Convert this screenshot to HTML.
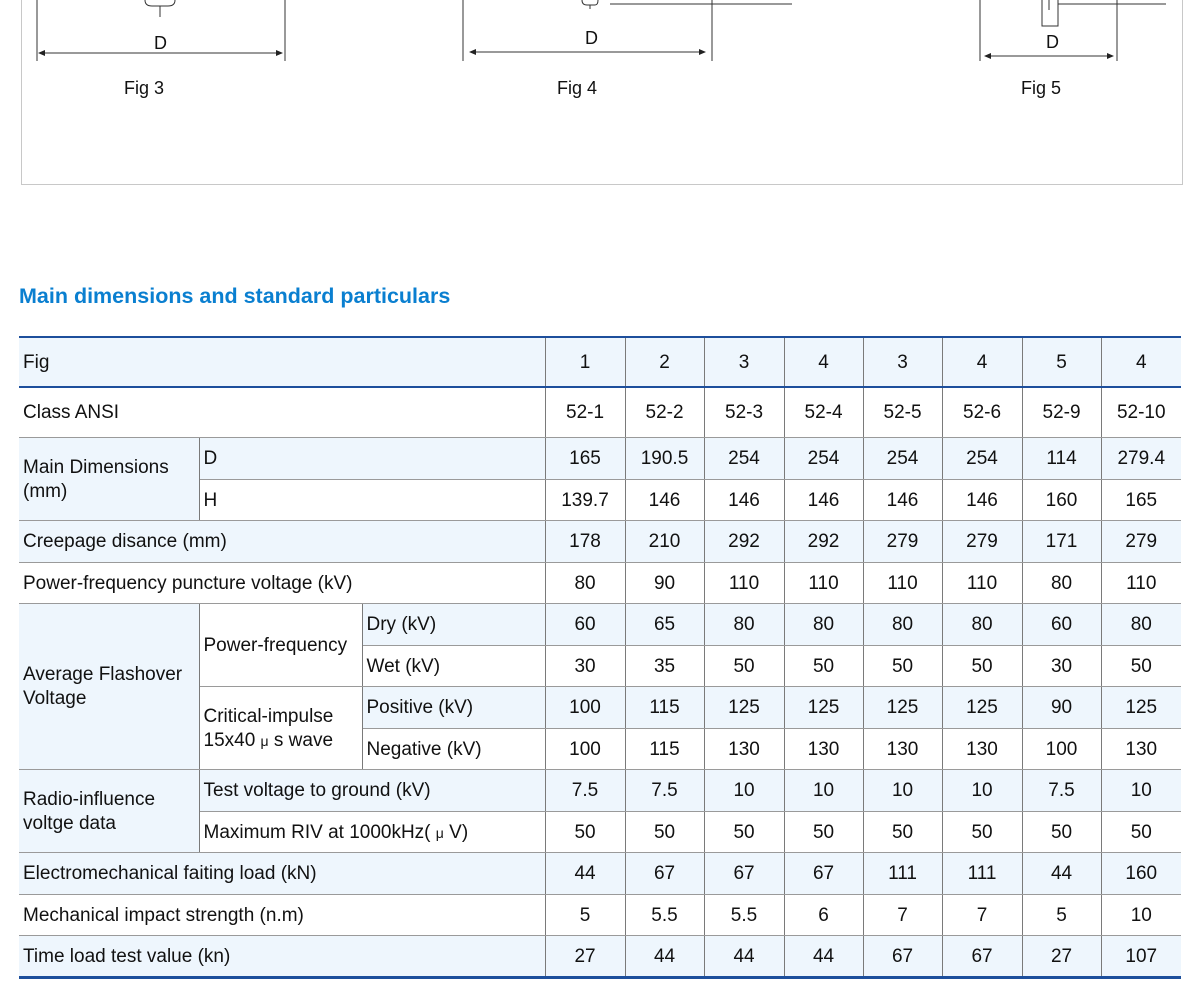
<!DOCTYPE html>
<html><head><meta charset="utf-8"><style>
body{margin:0;width:1200px;height:985px;background:#fff;position:relative;overflow:hidden;font-family:"Liberation Sans",Arial,sans-serif;color:#111}
.a{position:absolute}
.box{left:21px;top:-5px;width:1160px;height:189px;border:1px solid #c8c8c8;border-top:none}
.lbl{font-size:18px}
.title{left:19px;top:284px;font-size:21.5px;font-weight:bold;color:#0a7fd0}
table{position:absolute;left:19px;top:336px;border-collapse:collapse;table-layout:fixed;width:1162px;font-size:19px}
td{padding:2px 0 0 4px;border:1px solid #9a9a9a;border-left:1px solid #7a7a7a;border-right:1px solid #7a7a7a;vertical-align:middle;line-height:24px;overflow:hidden;white-space:nowrap}
td.n{text-align:center;padding:2px 0 0 0}
tr.s td{background:#eef6fd}
td.s{background:#eef6fd}
td.w{background:#fff!important}
tr td:first-child{border-left:none}
tr td:last-child{border-right:none}
</style></head><body>
<div class="a box"></div>
<svg class="a" style="left:0;top:0" width="1200" height="70">
<g stroke="#333" stroke-width="1" fill="none">
<line x1="37" y1="0" x2="37" y2="61"/><line x1="285" y1="0" x2="285" y2="61"/>
<line x1="40" y1="53" x2="282" y2="53"/>
<path d="M145 0 Q145 6 152 6 L168 6 Q175 6 175 0"/><line x1="160" y1="6" x2="160" y2="17"/>
<line x1="463" y1="0" x2="463" y2="61"/><line x1="712" y1="0" x2="712" y2="61"/>
<line x1="470" y1="52" x2="705" y2="52"/><line x1="610" y1="4" x2="792" y2="4"/>
<path d="M582 0 Q582 5 587 5 L595 5 Q598 5 598 0"/><line x1="590" y1="5" x2="590" y2="9"/>
<line x1="980" y1="0" x2="980" y2="61"/><line x1="1117" y1="0" x2="1117" y2="61"/>
<line x1="985" y1="56" x2="1113" y2="56"/>
<rect x="1042" y="-2" width="16" height="28"/><line x1="1049" y1="0" x2="1049" y2="10"/>
<line x1="1058" y1="4" x2="1166" y2="4"/>
</g>
<g fill="#222">
<path d="M38 53 l7 -3 v6z"/><path d="M283 53 l-7 -3 v6z"/>
<path d="M469 52 l7 -3 v6z"/><path d="M706 52 l-7 -3 v6z"/>
<path d="M984 56 l7 -3 v6z"/><path d="M1114 56 l-7 -3 v6z"/>
</g>
</svg>
<div class="a lbl" style="left:154px;top:33px">D</div>
<div class="a lbl" style="left:585px;top:28px">D</div>
<div class="a lbl" style="left:1046px;top:32px">D</div>
<div class="a lbl" style="left:124px;top:78px">Fig 3</div>
<div class="a lbl" style="left:557px;top:78px">Fig 4</div>
<div class="a lbl" style="left:1021px;top:78px">Fig 5</div>
<div class="a title">Main dimensions and standard particulars</div>
<table>
<colgroup><col style="width:180px"><col style="width:163px"><col style="width:183px"><col style="width:80px"><col style="width:79px"><col style="width:80px"><col style="width:79px"><col style="width:79px"><col style="width:80px"><col style="width:79px"><col style="width:80px"></colgroup>
<tr class="s" style="height:50px"><td colspan="3" style="border-top:2px solid #1d4f9c;border-bottom:2px solid #1d4f9c">Fig</td><td class="n" style="border-top:2px solid #1d4f9c;border-bottom:2px solid #1d4f9c">1</td><td class="n" style="border-top:2px solid #1d4f9c;border-bottom:2px solid #1d4f9c">2</td><td class="n" style="border-top:2px solid #1d4f9c;border-bottom:2px solid #1d4f9c">3</td><td class="n" style="border-top:2px solid #1d4f9c;border-bottom:2px solid #1d4f9c">4</td><td class="n" style="border-top:2px solid #1d4f9c;border-bottom:2px solid #1d4f9c">3</td><td class="n" style="border-top:2px solid #1d4f9c;border-bottom:2px solid #1d4f9c">4</td><td class="n" style="border-top:2px solid #1d4f9c;border-bottom:2px solid #1d4f9c">5</td><td class="n" style="border-top:2px solid #1d4f9c;border-bottom:2px solid #1d4f9c">4</td></tr>
<tr style="height:50px"><td colspan="3">Class ANSI</td><td class="n">52-1</td><td class="n">52-2</td><td class="n">52-3</td><td class="n">52-4</td><td class="n">52-5</td><td class="n">52-6</td><td class="n">52-9</td><td class="n">52-10</td></tr>
<tr class="s" style="height:42px"><td rowspan="2" class="s">Main Dimensions<br>(mm)</td><td colspan="2">D</td><td class="n">165</td><td class="n">190.5</td><td class="n">254</td><td class="n">254</td><td class="n">254</td><td class="n">254</td><td class="n">114</td><td class="n">279.4</td></tr>
<tr style="height:41px"><td colspan="2">H</td><td class="n">139.7</td><td class="n">146</td><td class="n">146</td><td class="n">146</td><td class="n">146</td><td class="n">146</td><td class="n">160</td><td class="n">165</td></tr>
<tr class="s" style="height:42px"><td colspan="3">Creepage disance (mm)</td><td class="n">178</td><td class="n">210</td><td class="n">292</td><td class="n">292</td><td class="n">279</td><td class="n">279</td><td class="n">171</td><td class="n">279</td></tr>
<tr style="height:41px"><td colspan="3">Power-frequency puncture voltage (kV)</td><td class="n">80</td><td class="n">90</td><td class="n">110</td><td class="n">110</td><td class="n">110</td><td class="n">110</td><td class="n">80</td><td class="n">110</td></tr>
<tr class="s" style="height:42px"><td rowspan="4" class="s">Average Flashover<br>Voltage</td><td rowspan="2" class="w">Power-frequency</td><td>Dry (kV)</td><td class="n">60</td><td class="n">65</td><td class="n">80</td><td class="n">80</td><td class="n">80</td><td class="n">80</td><td class="n">60</td><td class="n">80</td></tr>
<tr style="height:41px"><td>Wet (kV)</td><td class="n">30</td><td class="n">35</td><td class="n">50</td><td class="n">50</td><td class="n">50</td><td class="n">50</td><td class="n">30</td><td class="n">50</td></tr>
<tr class="s" style="height:42px"><td rowspan="2" class="w">Critical-impulse<br>15x40 <span style="font-size:14px">μ</span> s wave</td><td>Positive (kV)</td><td class="n">100</td><td class="n">115</td><td class="n">125</td><td class="n">125</td><td class="n">125</td><td class="n">125</td><td class="n">90</td><td class="n">125</td></tr>
<tr style="height:41px"><td>Negative (kV)</td><td class="n">100</td><td class="n">115</td><td class="n">130</td><td class="n">130</td><td class="n">130</td><td class="n">130</td><td class="n">100</td><td class="n">130</td></tr>
<tr class="s" style="height:42px"><td rowspan="2" class="s">Radio-influence<br>voltge data</td><td colspan="2">Test voltage to ground (kV)</td><td class="n">7.5</td><td class="n">7.5</td><td class="n">10</td><td class="n">10</td><td class="n">10</td><td class="n">10</td><td class="n">7.5</td><td class="n">10</td></tr>
<tr style="height:41px"><td colspan="2">Maximum RIV at 1000kHz( <span style="font-size:14px">μ</span> V)</td><td class="n">50</td><td class="n">50</td><td class="n">50</td><td class="n">50</td><td class="n">50</td><td class="n">50</td><td class="n">50</td><td class="n">50</td></tr>
<tr class="s" style="height:42px"><td colspan="3">Electromechanical faiting load (kN)</td><td class="n">44</td><td class="n">67</td><td class="n">67</td><td class="n">67</td><td class="n">111</td><td class="n">111</td><td class="n">44</td><td class="n">160</td></tr>
<tr style="height:41px"><td colspan="3">Mechanical impact strength (n.m)</td><td class="n">5</td><td class="n">5.5</td><td class="n">5.5</td><td class="n">6</td><td class="n">7</td><td class="n">7</td><td class="n">5</td><td class="n">10</td></tr>
<tr class="s" style="height:42px"><td colspan="3" style="border-bottom:3px solid #1d4f9c">Time load test value (kn)</td><td class="n" style="border-bottom:3px solid #1d4f9c">27</td><td class="n" style="border-bottom:3px solid #1d4f9c">44</td><td class="n" style="border-bottom:3px solid #1d4f9c">44</td><td class="n" style="border-bottom:3px solid #1d4f9c">44</td><td class="n" style="border-bottom:3px solid #1d4f9c">67</td><td class="n" style="border-bottom:3px solid #1d4f9c">67</td><td class="n" style="border-bottom:3px solid #1d4f9c">27</td><td class="n" style="border-bottom:3px solid #1d4f9c">107</td></tr>
</table>
</body></html>
